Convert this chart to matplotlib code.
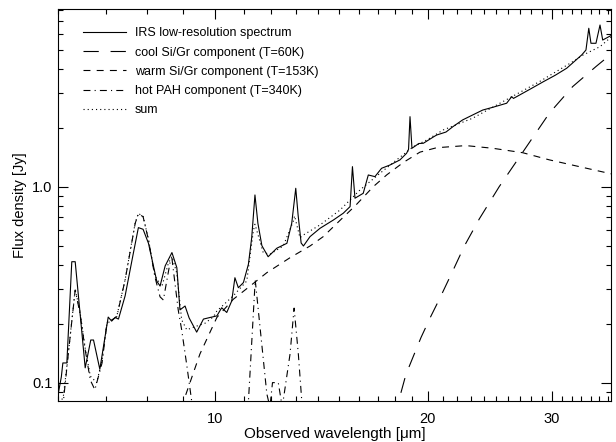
import matplotlib
matplotlib.use("Agg")
import matplotlib.pyplot as plt
from matplotlib.ticker import NullFormatter

plt.rcParams['font.family'] = ['Liberation Sans', 'DejaVu Sans']
plt.rcParams['lines.scale_dashes'] = False

# IRS low-resolution spectrum (wavelength in micron, flux in Jy)
irs_wl = [6.00, 6.06, 6.09, 6.17, 6.27, 6.34, 6.55, 6.67, 6.73, 6.87, 7.06, 7.14, 7.22, 7.30,
          7.46, 7.66, 7.79, 7.91, 8.05, 8.27, 8.36, 8.50, 8.69, 8.83, 8.92, 9.07, 9.19, 9.42,
          9.63, 9.84, 10.06, 10.22, 10.39, 10.56, 10.67, 10.79, 10.97, 11.15, 11.27, 11.39,
          11.50, 11.65, 11.89, 12.23, 12.64, 12.84, 13.01, 13.11, 13.24, 13.34, 13.63, 14.08,
          14.71, 15.19, 15.53, 15.65, 15.78, 16.21, 16.48, 16.84, 17.21, 17.69, 18.27, 18.67,
          18.79, 18.88, 19.00, 19.43, 19.72, 20.41, 20.60, 21.23, 21.70, 22.41, 23.15, 23.93,
          24.72, 25.87, 26.30, 26.45, 27.91, 29.15, 30.30, 31.46, 33.04, 33.50, 33.81, 34.05,
          34.61, 35.07, 35.38, 36.47]
irs_flux = [0.088, 0.107, 0.126, 0.126, 0.414, 0.414, 0.119, 0.165, 0.165, 0.117, 0.216, 0.206,
            0.215, 0.211, 0.277, 0.454, 0.618, 0.606, 0.514, 0.330, 0.311, 0.394, 0.461, 0.386,
            0.235, 0.246, 0.214, 0.181, 0.211, 0.215, 0.219, 0.241, 0.228, 0.261, 0.343, 0.305,
            0.324, 0.402, 0.549, 0.907, 0.650, 0.500, 0.439, 0.485, 0.514, 0.650, 0.981, 0.717,
            0.516, 0.498, 0.556, 0.613, 0.676, 0.732, 0.791, 1.265, 0.873, 0.925, 1.147, 1.125,
            1.241, 1.29, 1.369, 1.48, 1.55, 2.276, 1.57, 1.66, 1.665, 1.80, 1.835, 1.90, 2.02,
            2.19, 2.32, 2.46, 2.54, 2.665, 2.88, 2.82, 3.14, 3.43, 3.70, 4.02, 4.70, 4.98, 6.43,
            5.39, 5.39, 6.68, 5.60, 5.94]

# cool Si/Gr component (T=60K)
cool_wl = [18.0, 18.21, 18.63, 19.05, 19.57, 20.22, 20.77, 21.70, 22.54, 23.66, 25.25, 27.26,
           29.73, 32.08, 34.61, 36.47]
cool_flux = [0.065, 0.0815, 0.110, 0.134, 0.170, 0.219, 0.266, 0.371, 0.498, 0.684, 1.0, 1.498,
             2.37, 3.24, 4.10, 4.79]

# warm Si/Gr component (T=153K)
warm_wl = [8.8, 9.02, 9.52, 10.06, 10.61, 11.21, 11.84, 12.77, 13.63, 14.23, 15.2, 15.8, 16.75,
           17.51, 18.48, 19.50, 20.59, 22.65, 24.72, 27.26, 29.73, 32.79, 36.47]
warm_flux = [0.065, 0.080, 0.140, 0.215, 0.266, 0.311, 0.364, 0.434, 0.498, 0.556, 0.70, 0.80,
             1.0, 1.15, 1.33, 1.50, 1.58, 1.62, 1.57, 1.49, 1.37, 1.265, 1.16]

# hot PAH component (T=340K)
pah_wl = [6.00, 6.10, 6.20, 6.34, 6.44, 6.55, 6.66, 6.76, 6.92, 7.03, 7.26, 7.46, 7.71, 7.79,
          7.91, 8.05, 8.22, 8.36, 8.45, 8.64, 8.69, 8.87, 8.97, 9.12, 9.27, 9.6, 10.9, 11.15,
          11.40, 11.84, 11.96, 12.06, 12.29, 12.45, 12.77, 12.94, 13.12, 13.27, 13.6, 14.5]
pah_flux = [0.05, 0.080, 0.141, 0.297, 0.226, 0.147, 0.103, 0.092, 0.126, 0.201, 0.217, 0.334,
            0.651, 0.726, 0.703, 0.535, 0.347, 0.274, 0.264, 0.413, 0.43, 0.235, 0.186, 0.123,
            0.080, 0.03, 0.03, 0.080, 0.334, 0.0876, 0.075, 0.100, 0.100, 0.075, 0.140, 0.240,
            0.140, 0.080, 0.03, 0.02]

# sum of the components
sum_wl = [6.00, 6.10, 6.20, 6.34, 6.44, 6.55, 6.66, 6.80, 6.92, 7.03, 7.26, 7.46, 7.71, 7.79,
          7.91, 8.05, 8.22, 8.41, 8.59, 8.69, 8.83, 8.97, 9.12, 9.37, 9.68, 9.95, 10.06, 10.61,
          11.09, 11.33, 11.39, 11.70, 11.96, 12.49, 12.91, 12.96, 13.19, 13.34, 14.08, 15.03,
          16.04, 17.12, 18.07, 19.09, 19.94, 21.04, 23.15, 25.81, 28.77, 32.08, 33.20, 35.07,
          36.47]
sum_flux = [0.075, 0.085, 0.141, 0.30, 0.23, 0.15, 0.108, 0.10, 0.13, 0.20, 0.218, 0.335, 0.655,
            0.73, 0.705, 0.54, 0.35, 0.309, 0.407, 0.44, 0.361, 0.209, 0.186, 0.193, 0.201,
            0.217, 0.232, 0.277, 0.330, 0.594, 0.643, 0.461, 0.452, 0.498, 0.668, 0.709, 0.549,
            0.567, 0.638, 0.760, 0.962, 1.17, 1.369, 1.60, 1.73, 1.947, 2.234, 2.77, 3.43, 4.34,
            4.70, 5.18, 5.85]

fig = plt.figure(figsize=(6.16, 4.42), dpi=100)
ax = fig.add_axes([0.0942, 0.0928, 0.8977, 0.887])

lw = 0.8
ax.plot(irs_wl, irs_flux, color='black', lw=lw, label='IRS low-resolution spectrum')
ax.plot(cool_wl, cool_flux, color='black', lw=lw, linestyle=(0, (11, 8.5)),
        label='cool Si/Gr component (T=60K)')
ax.plot(warm_wl, warm_flux, color='black', lw=lw, linestyle=(0, (5, 4.5)),
        label='warm Si/Gr component (T=153K)')
ax.plot(pah_wl, pah_flux, color='black', lw=lw, linestyle=(0, (5, 3, 0.8, 3)),
        label='hot PAH component (T=340K)')
ax.plot(sum_wl, sum_flux, color='black', lw=lw, linestyle=(0, (0.8, 2.2)), label='sum')

ax.set_xscale('log')
ax.set_yscale('log')
ax.set_xlim(5.995, 36.35)
ax.set_ylim(0.0806, 8.07)

ax.set_xticks([10, 20, 30])
ax.set_xticklabels(['10', '20', '30'])
ax.set_xticks([6, 7, 8, 9] + list(range(11, 20)) + list(range(21, 30)) + list(range(31, 37)),
              minor=True)
ax.xaxis.set_minor_formatter(NullFormatter())
ax.set_yticks([0.1, 1.0])
ax.set_yticklabels(['0.1', '1.0'])
ax.set_yticks([0.09, 0.2, 0.3, 0.4, 0.5, 0.6, 0.7, 0.8, 0.9, 2, 3, 4, 5, 6, 7, 8], minor=True)
ax.yaxis.set_minor_formatter(NullFormatter())

ax.tick_params(which='both', direction='in', top=True, right=True, width=0.8,
               labelsize=10.5, colors='black')
ax.tick_params(which='major', length=7)
ax.tick_params(which='minor', length=3.5)
ax.tick_params(axis='x', which='major', pad=8)
ax.tick_params(axis='y', which='major', pad=4)
for s in ax.spines.values():
    s.set_linewidth(0.8)

ax.set_xlabel('Observed wavelength [μm]', fontsize=11, labelpad=0.5)
ax.set_ylabel('Flux density [Jy]', fontsize=10.5, labelpad=4)

ax.legend(loc='upper left', bbox_to_anchor=(0.0447, 0.953), frameon=False, fontsize=9,
          handlelength=3.5, handletextpad=0.66, labelspacing=0.58, borderaxespad=0,
          borderpad=0)

fig.savefig('out.png', dpi=100)
